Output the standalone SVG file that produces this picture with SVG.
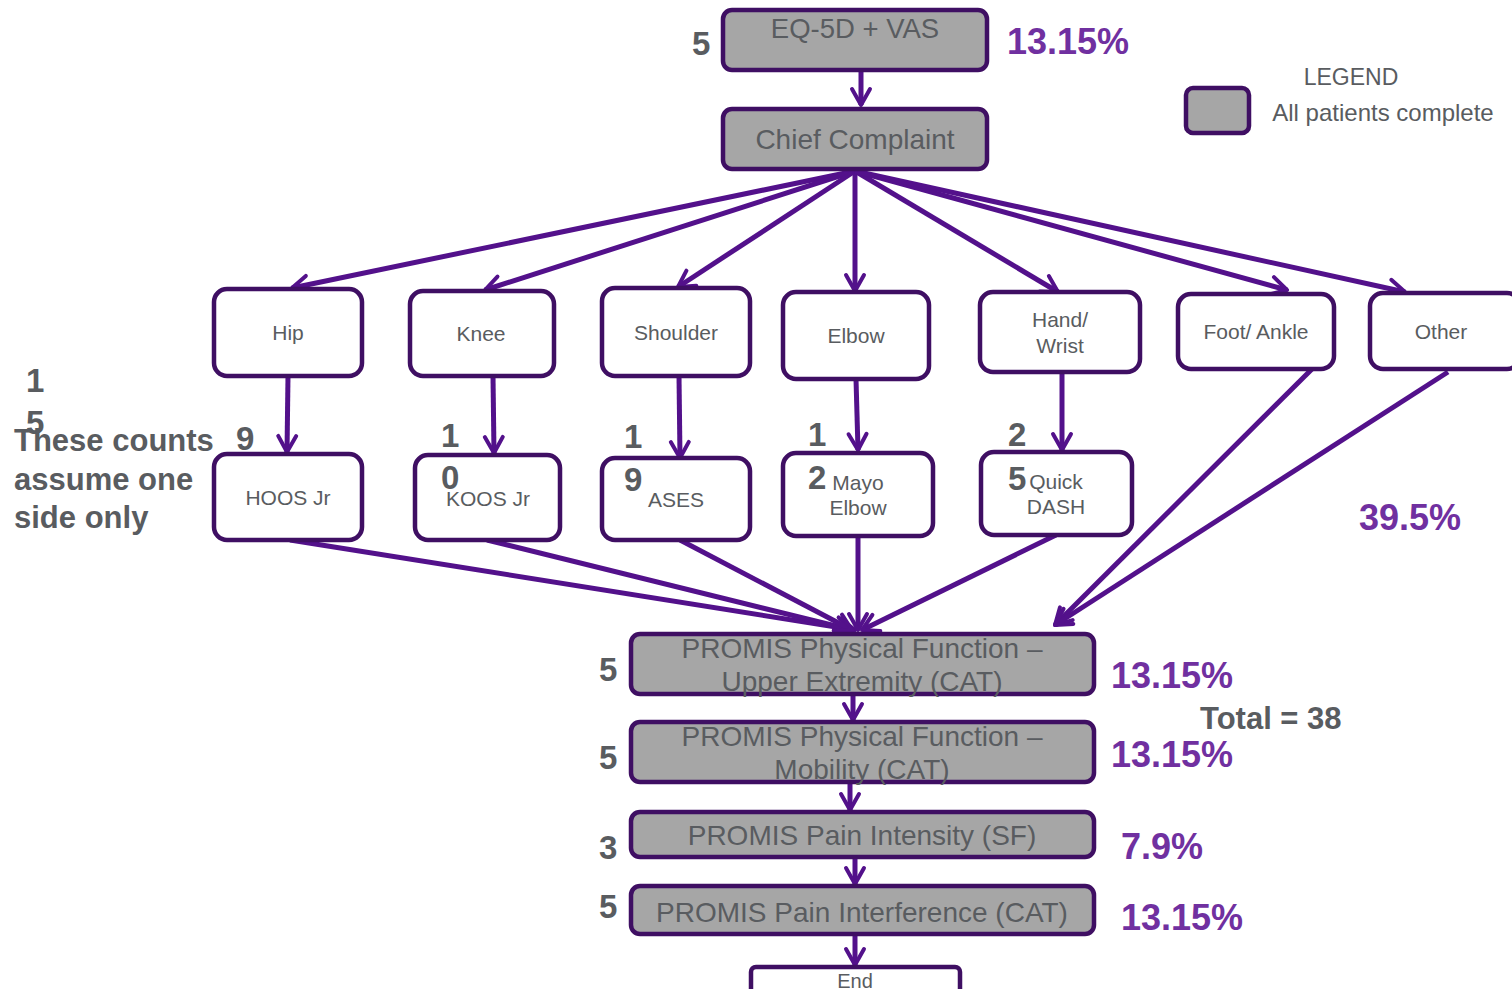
<svg xmlns="http://www.w3.org/2000/svg" width="1512" height="989" viewBox="0 0 1512 989">
<defs>
<marker id="arr" viewBox="0 0 24 24" refX="21" refY="12" markerWidth="24" markerHeight="24" markerUnits="userSpaceOnUse" orient="auto">
<path d="M5,3 L21,12 L5,21" fill="none" stroke="#53118b" stroke-width="4" stroke-linecap="round" stroke-linejoin="round"/>
</marker>
</defs>
<style>
.g{fill:#a6a6a6;stroke:#3f0f63;stroke-width:4.5}
.w{fill:#fff;stroke:#3f0f63;stroke-width:4.5}
.t{font-family:"Liberation Sans",Arial,sans-serif;fill:#595c60;text-anchor:middle}
.n{font-family:"Liberation Sans",Arial,sans-serif;fill:#595c60;font-weight:bold;font-size:33px}
.p{font-family:"Liberation Sans",Arial,sans-serif;fill:#7030a0;font-weight:bold;font-size:36px}
.c line{stroke:#53118b;stroke-width:5;marker-end:url(#arr)}
</style>
<rect width="1512" height="989" fill="#fff"/>
<g class="c">
<line x1="861" y1="70" x2="861" y2="105"/>
<line x1="855" y1="171" x2="292" y2="288"/>
<line x1="855" y1="171" x2="485" y2="290"/>
<line x1="855" y1="171" x2="678" y2="287"/>
<line x1="855" y1="171" x2="855" y2="291"/>
<line x1="855" y1="171" x2="1058" y2="292"/>
<line x1="855" y1="171" x2="1287" y2="290"/>
<line x1="855" y1="171" x2="1405" y2="292"/>
<line x1="288" y1="376" x2="287" y2="452"/>
<line x1="493" y1="376" x2="494" y2="453"/>
<line x1="679" y1="376" x2="680" y2="458"/>
<line x1="856" y1="379" x2="858" y2="450"/>
<line x1="1062" y1="372" x2="1062" y2="450"/>
<line x1="290" y1="540" x2="855" y2="630"/>
<line x1="487" y1="540" x2="852" y2="630"/>
<line x1="680" y1="540" x2="852" y2="630"/>
<line x1="858" y1="536" x2="858" y2="630"/>
<line x1="1056" y1="535" x2="862" y2="630"/>
<line x1="1312" y1="369" x2="1055" y2="625"/>
<line x1="1448" y1="372" x2="1055" y2="625"/>
<line x1="853" y1="694" x2="853" y2="720"/>
<line x1="850" y1="782" x2="850" y2="810"/>
<line x1="855" y1="857" x2="855" y2="884"/>
<line x1="855" y1="934" x2="855" y2="965"/>
</g>
<g id="eq5d">
<rect class="g" x="723" y="10" width="264" height="60" rx="9"/>
<text class="t" x="855" y="38" font-size="27.5">EQ-5D + VAS</text>
<text class="n" x="692" y="55">5</text>
<text class="p" x="1007" y="54">13.15%</text>
</g>
<g id="chief">
<rect class="g" x="723" y="109" width="264" height="60" rx="9"/>
<text class="t" x="855" y="149" font-size="28">Chief Complaint</text>
</g>
<g id="legend">
<rect class="g" x="1186" y="88" width="63" height="45" rx="7"/>
<text class="t" x="1351" y="85" font-size="23">LEGEND</text>
<text class="t" x="1383" y="121" font-size="24" style="font-size:24px">All patients complete</text>
</g>
<g id="hip">
<rect class="w" x="214" y="289" width="148" height="87" rx="13"/>
<text class="t" x="288" y="340" font-size="21">Hip</text>
</g>
<g id="knee">
<rect class="w" x="410" y="291" width="144" height="85" rx="13"/>
<text class="t" x="481" y="341" font-size="21">Knee</text>
</g>
<g id="shoulder">
<rect class="w" x="602" y="288" width="148" height="88" rx="13"/>
<text class="t" x="676" y="340" font-size="21">Shoulder</text>
</g>
<g id="elbow">
<rect class="w" x="783" y="292" width="146" height="87" rx="13"/>
<text class="t" x="856" y="343" font-size="21">Elbow</text>
</g>
<g id="hand">
<rect class="w" x="980" y="292" width="160" height="80" rx="13"/>
<text class="t" x="1060" y="327" font-size="21">Hand/</text>
<text class="t" x="1060" y="353" font-size="21">Wrist</text>
</g>
<g id="foot">
<rect class="w" x="1178" y="294" width="156" height="75" rx="13"/>
<text class="t" x="1256" y="339" font-size="21">Foot/ Ankle</text>
</g>
<g id="other">
<rect class="w" x="1370" y="293" width="150" height="76" rx="13"/>
<text class="t" x="1441" y="339" font-size="21">Other</text>
</g>
<g id="hoos">
<rect class="w" x="214" y="454" width="148" height="86" rx="13"/>
<text class="t" x="288" y="505" font-size="21">HOOS Jr</text>
<text class="n" x="236" y="450">9</text>
</g>
<g id="koos">
<rect class="w" x="415" y="455" width="145" height="85" rx="13"/>
<text class="t" x="488" y="506" font-size="21">KOOS Jr</text>
<text class="n" x="441" y="447">1</text>
<text class="n" x="441" y="489">0</text>
</g>
<g id="ases">
<rect class="w" x="602" y="458" width="148" height="82" rx="13"/>
<text class="t" x="676" y="507" font-size="21">ASES</text>
<text class="n" x="624" y="448">1</text>
<text class="n" x="624" y="491">9</text>
</g>
<g id="mayo">
<rect class="w" x="783" y="453" width="150" height="83" rx="13"/>
<text class="t" x="858" y="490" font-size="21">Mayo</text>
<text class="t" x="858" y="515" font-size="21">Elbow</text>
<text class="n" x="808" y="446">1</text>
<text class="n" x="808" y="489">2</text>
</g>
<g id="dash">
<rect class="w" x="981" y="452" width="151" height="83" rx="13"/>
<text class="t" x="1056" y="489" font-size="21">Quick</text>
<text class="t" x="1056" y="514" font-size="21">DASH</text>
<text class="n" x="1008" y="446">2</text>
<text class="n" x="1008" y="490">5</text>
</g>
<g id="note">
<text class="n" x="26" y="392">1</text>
<text class="n" x="26" y="434">5</text>
<text class="n" x="14" y="451" style="font-size:31px">These counts</text>
<text class="n" x="14" y="490" style="font-size:31px">assume one</text>
<text class="n" x="14" y="528" style="font-size:31px">side only</text>
<text class="p" x="1359" y="530">39.5%</text>
<text class="n" x="1200" y="729" style="font-size:31px">Total = 38</text>
</g>
<g id="pfue">
<rect class="g" x="631" y="634" width="463" height="60" rx="9"/>
<text class="t" x="862" y="658" font-size="28">PROMIS Physical Function –</text>
<text class="t" x="862" y="691" font-size="28">Upper Extremity (CAT)</text>
<text class="n" x="599" y="681">5</text>
<text class="p" x="1111" y="688">13.15%</text>
</g>
<g id="pfmob">
<rect class="g" x="631" y="722" width="463" height="60" rx="9"/>
<text class="t" x="862" y="746" font-size="28">PROMIS Physical Function –</text>
<text class="t" x="862" y="779" font-size="28">Mobility (CAT)</text>
<text class="n" x="599" y="769">5</text>
<text class="p" x="1111" y="767">13.15%</text>
</g>
<g id="pain-int">
<rect class="g" x="631" y="812" width="463" height="45" rx="9"/>
<text class="t" x="862" y="845" font-size="28">PROMIS Pain Intensity (SF)</text>
<text class="n" x="599" y="859">3</text>
<text class="p" x="1121" y="859">7.9%</text>
</g>
<g id="pain-interf">
<rect class="g" x="631" y="886" width="463" height="48" rx="9"/>
<text class="t" x="862" y="922" font-size="28">PROMIS Pain Interference (CAT)</text>
<text class="n" x="599" y="918">5</text>
<text class="p" x="1121" y="930">13.15%</text>
</g>
<g id="end">
<rect class="w" x="751" y="967" width="209" height="30" rx="5"/>
<text class="t" x="855" y="988" font-size="20">End</text>
</g>
</svg>
